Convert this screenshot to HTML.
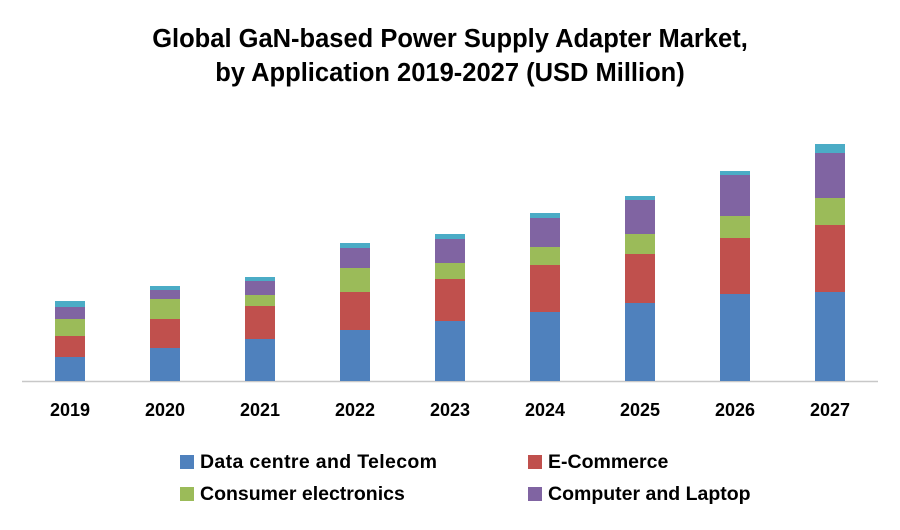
<!DOCTYPE html>
<html><head><meta charset="utf-8"><style>
body{margin:0;background:#fff;width:900px;height:525px;overflow:hidden;font-family:"Liberation Sans",sans-serif}
</style></head><body>
<svg id="chart" width="900" height="525" xmlns="http://www.w3.org/2000/svg">
<text x="450" y="47" text-anchor="middle" font-size="25.5" font-weight="bold" fill="#000">Global GaN-based Power Supply Adapter Market,</text>
<text x="450" y="81" text-anchor="middle" font-size="25.5" font-weight="bold" fill="#000">by Application 2019-2027 (USD Million)</text>
<line x1="22" y1="381.5" x2="878" y2="381.5" stroke="#c8c8c8" stroke-width="1.5"/>
<g id="bars"></g><g id="xlabels"></g>
<g font-size="19.5" font-weight="bold" fill="#000">
<g><rect x="180" y="455" width="14" height="14" fill="#4f81bd"/><text x="200" y="468" textLength="237">Data centre and Telecom</text></g>
<g><rect x="528" y="455" width="14" height="14" fill="#c0504d"/><text x="548" y="468">E-Commerce</text></g>
<g><rect x="180" y="487" width="14" height="14" fill="#9bbb59"/><text x="200" y="500">Consumer electronics</text></g>
<g><rect x="528" y="487" width="14" height="14" fill="#8064a2"/><text x="548" y="500">Computer and Laptop</text></g>
</g>
</svg>
<script>
const categories=["2019","2020","2021","2022","2023","2024","2025","2026","2027"];
const dataCentre=[24,33,42,51,60,69,78,87,89];
const eCommerce=[21,29,33,38,42,47,49,56,67];
const consumer=[17,20,11,24,16,18,20,22,27];
const computer=[12,9,14,20,24,29,34,41,45];
const others=[6,4,4,5,5,5,4,4,9];
const series=[dataCentre,eCommerce,consumer,computer,others];
const seriesNames=["data-centre","e-commerce","consumer-electronics","computer-laptop","others"];
const colors=["#4f81bd","#c0504d","#9bbb59","#8064a2","#4bacc6"];
const NS="http://www.w3.org/2000/svg";
const base=381, scale=1;
function xPos(i){return 70+i*95;}
function yPos(v){return base-v*scale;}
const g=document.getElementById('bars'), xl=document.getElementById('xlabels');
categories.forEach((c,i)=>{
  let cum=0;
  series.forEach((s,k)=>{
    const r=document.createElementNS(NS,'rect');
    
    
    r.setAttribute('x',xPos(i)-15);r.setAttribute('width',30);
    r.setAttribute('y',yPos(cum+s[i]));r.setAttribute('height',s[i]*scale);
    r.setAttribute('fill',colors[k]);
    g.appendChild(r);cum+=s[i];
  });
  const t=document.createElementNS(NS,'text');
  
  
  t.setAttribute('x',xPos(i));t.setAttribute('y',416);t.setAttribute('text-anchor','middle');
  t.setAttribute('font-size','18');t.setAttribute('font-weight','bold');t.textContent=c;
  xl.appendChild(t);
});
</script>
</body></html>
